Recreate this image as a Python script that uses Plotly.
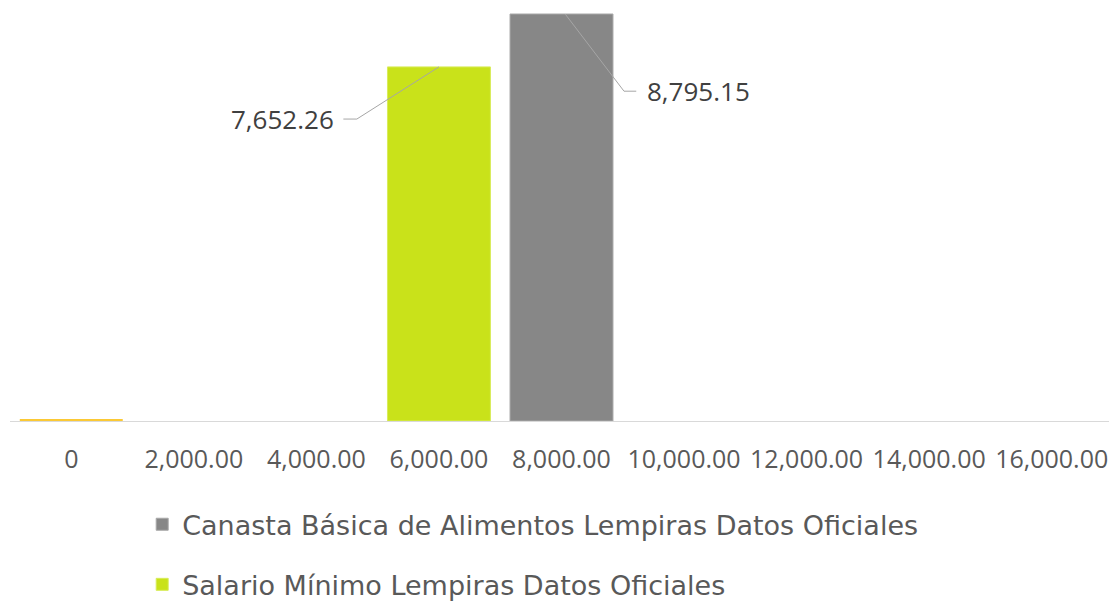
import plotly.graph_objects as go

categories = ["0", "2,000.00", "4,000.00", "6,000.00", "8,000.00",
              "10,000.00", "12,000.00", "14,000.00", "16,000.00"]
canasta_cat = "8,000.00"
canasta_val = 8795.15
salario_cat = "6,000.00"
salario_val = 7652.26
otro_cat = "0"
otro_val = 45

canasta_name = "Canasta Básica de Alimentos Lempiras Datos Oficiales"
salario_name = "Salario Mínimo Lempiras Datos Oficiales"

# page has an 8px body margin, so the figure is sized to the visible area
W, H = 1109, 593
ml, mr, mt, mb = 2, 4, 0, 180
ymax = 8925

fig = go.Figure()
fig.add_trace(go.Bar(x=[canasta_cat], y=[canasta_val], name=canasta_name,
                     marker=dict(color="#878787", line=dict(color="#a8a8a8", width=1)),
                     width=0.84, legendgroup="a"))
fig.add_trace(go.Bar(x=[salario_cat], y=[salario_val], name=salario_name,
                     marker=dict(color="#c9e21a", line=dict(color="#d8ec5a", width=1)),
                     width=0.84, legendgroup="b"))
fig.add_trace(go.Bar(x=[otro_cat], y=[otro_val], name="otro",
                     marker=dict(color="#fbc935", line=dict(width=0)),
                     width=0.84, showlegend=False))

ci = categories.index
lab_font = dict(family="Open Sans, Noto Sans, sans-serif", size=26, color="#404040")
lc = "#a6a6a6"
# leader for salario
xs = ci(salario_cat)
fig.add_shape(type="path", xref="x", yref="y",
              path=f"M {xs} {salario_val} L {xs-0.67} {salario_val-1127} L {xs-0.78} {salario_val-1127}",
              line=dict(color=lc, width=1))
fig.add_annotation(x=xs-0.84, y=salario_val-1127, text=f"{salario_val:,.2f}", showarrow=False,
                   xanchor="right", yanchor="middle", font=lab_font)
# leader for canasta
xc = ci(canasta_cat)
fig.add_shape(type="path", xref="x", yref="y",
              path=f"M {xc+0.03} {canasta_val} L {xc+0.51} {canasta_val-1668} L {xc+0.61} {canasta_val-1668}",
              line=dict(color=lc, width=1))
fig.add_annotation(x=xc+0.68, y=canasta_val-1668, text=f"{canasta_val:,.2f}", showarrow=False,
                   xanchor="left", yanchor="middle", font=lab_font)

fig.update_layout(
    width=W, height=H,
    margin=dict(l=ml, r=mr, t=mt, b=mb, autoexpand=False),
    plot_bgcolor="white", paper_bgcolor="white",
    barmode="overlay",
    showlegend=True,
    legend=dict(orientation="v", xref="container", yref="container",
                x=0.121, xanchor="left", y=0.17, yanchor="top",
                font=dict(family="DejaVu Sans, sans-serif", size=27, color="#595959"),
                tracegroupgap=22, traceorder="grouped", itemwidth=30,
                bgcolor="rgba(0,0,0,0)"),
    xaxis=dict(type="category", categoryorder="array", categoryarray=categories,
               range=[-0.5, len(categories) - 0.5],
               showline=True, linecolor="#d9d9d9", linewidth=1, ticks="",
               ticklabelstandoff=16,
               tickfont=dict(family="Open Sans, Noto Sans, sans-serif", size=25, color="#595959"),
               showgrid=False),
    yaxis=dict(range=[0, ymax], visible=False, showgrid=False, zeroline=False),
    font=dict(family="Open Sans, sans-serif"),
)

fig.write_html("out.html")
